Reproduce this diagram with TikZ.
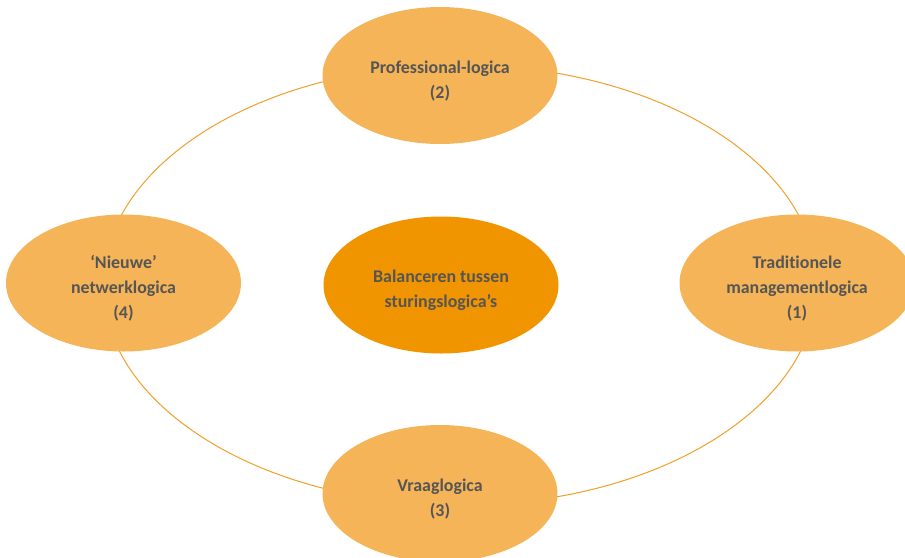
\documentclass[tikz,border=0pt]{standalone}
\usepackage{fontspec}
\setmainfont[Ligatures=NoCommon]{Carlito}
\usetikzlibrary{shapes.geometric}
\definecolor{lightorange}{HTML}{F5B457}
\definecolor{darkorange}{HTML}{F09400}
\definecolor{ringline}{HTML}{F0A02A}
\definecolor{textgray}{HTML}{555555}
\newcommand{\lift}{\rule{0pt}{23pt}}
\tikzset{
  logica/.style={ellipse, fill=lightorange, minimum width=235pt, minimum height=137pt,
    inner sep=0pt, align=center, text=textgray,
    font=\fontsize{17.9}{25}\selectfont\bfseries},
  hub/.style={logica, fill=darkorange}
}
\begin{document}
\begin{tikzpicture}[x=1pt,y=-1pt]
      \useasboundingbox (0,0) rectangle (905,557);
      % RING
      \coordinate (ring) at (460,285);
      \draw[ringline, line width=1pt] (ring) ellipse [x radius=357pt, y radius=220pt];

      % LOGICAS
      % 2
      \node[logica] (prof) at (440,75.5) {\lift Professional-logica\\(2)};
      % 1
      \node[logica] (trad) at (797,283) {\lift Traditionele\\managementlogica\\(1)};
      % 4
      \node[logica] (netw) at (123.5,283) {\lift ‘Nieuwe’\\netwerklogica\\(4)};
      % 3
      \node[logica] (vraag) at (440,493.5) {\lift Vraaglogica\\(3)};

      % CENTRE
      \node[hub] (bal) at (441,285) {\lift Balanceren tussen\\sturingslogica’s};
\end{tikzpicture}
\end{document}
